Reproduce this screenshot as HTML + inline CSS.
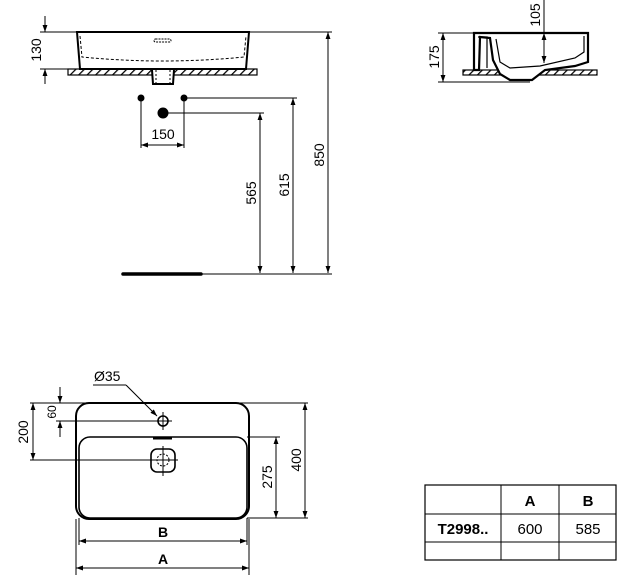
<!DOCTYPE html>
<html><head><style>
html,body{margin:0;padding:0;background:#fff;}
svg{display:block;font-family:"Liberation Sans",sans-serif;}
</style></head><body>
<svg width="621" height="579" viewBox="0 0 621 579" xmlns="http://www.w3.org/2000/svg">
<defs>
<marker id="ar" viewBox="0 0 10 10" refX="10" refY="5" markerWidth="7" markerHeight="7" orient="auto-start-reverse"><path d="M0,1.5 L10,5 L0,8.5 z" fill="#000"/></marker>
<pattern id="hatch" width="6" height="6" patternUnits="userSpaceOnUse" patternTransform="rotate(45)"><rect width="6" height="6" fill="#fff"/><line x1="0" y1="0" x2="0" y2="6" stroke="#000" stroke-width="2.5"/></pattern>
</defs>
<g stroke="#000" fill="none" stroke-width="1">
<rect x="68" y="69" width="189" height="6" fill="url(#hatch)" stroke-width="1.2"/>
<path d="M77,32 L80,69 L246,69 L249,32 Z" fill="#fff" stroke-width="2"/>
<path d="M80,36 L82,57 Q163,65 244,57 L246,36" stroke-dasharray="3,2"/>
<rect x="154" y="39" width="17" height="3" rx="1.5" stroke-dasharray="2,1"/>
<path d="M152,70 L153,84 L173,84 L174,70" stroke-width="2" fill="#fff"/>
<path d="M156,70 L156,83 M170,70 L170,83" stroke-dasharray="2,2"/>
<line x1="40" y1="32" x2="77" y2="32"/>
<line x1="40" y1="69" x2="70" y2="69"/>
<line x1="45" y1="16" x2="45" y2="32" marker-end="url(#ar)"/>
<line x1="45" y1="84" x2="45" y2="69" marker-end="url(#ar)"/>
<line x1="249" y1="32" x2="332" y2="32"/>
<circle cx="141" cy="98" r="3" fill="#000"/>
<circle cx="184" cy="98" r="3" fill="#000"/>
<circle cx="163" cy="113" r="5" fill="#000"/>
<line x1="184" y1="98" x2="297" y2="98"/>
<line x1="163" y1="113" x2="264" y2="113"/>
<line x1="141" y1="98" x2="141" y2="148"/>
<line x1="184" y1="98" x2="184" y2="148"/>
<line x1="141" y1="145" x2="184" y2="145" marker-start="url(#ar)" marker-end="url(#ar)"/>
<line x1="260" y1="113" x2="260" y2="273" marker-start="url(#ar)" marker-end="url(#ar)"/>
<line x1="293" y1="98" x2="293" y2="273" marker-start="url(#ar)" marker-end="url(#ar)"/>
<line x1="328" y1="32" x2="328" y2="273" marker-start="url(#ar)" marker-end="url(#ar)"/>
<line x1="200" y1="274" x2="332" y2="274"/>
<line x1="123" y1="274" x2="201" y2="274" stroke-width="3.5" stroke-linecap="round"/>
<rect x="463" y="70" width="134" height="5" fill="url(#hatch)" stroke-width="1.2"/>
<path d="M474,33 L588,33 L588,62 L575,66 L545,70 L532,80 L510,80 L500,74 L493,60 L490,38 L480,37 L479,70 L474,70 Z" fill="#fff" stroke-width="2.2"/>
<path d="M478,37 L487,37 L487,68" stroke-width="1.2"/>
<path d="M496,39 L500,62 L510,68 L540,66 L575,58 L584,52 L584,36" stroke-width="1.2"/>
<line x1="438" y1="33" x2="474" y2="33"/>
<line x1="438" y1="82" x2="530" y2="82"/>
<line x1="443" y1="33" x2="443" y2="82" marker-start="url(#ar)" marker-end="url(#ar)"/>
<line x1="544" y1="0" x2="544" y2="33"/>
<line x1="544" y1="33" x2="544" y2="63" marker-start="url(#ar)" marker-end="url(#ar)"/>
<rect x="76" y="403" width="173" height="116" rx="13" stroke-width="2"/>
<rect x="79" y="437" width="168" height="81" rx="11" stroke-width="1.6"/>
<line x1="153" y1="438" x2="172" y2="438" stroke-width="3"/>
<circle cx="163" cy="421" r="5" stroke-width="1.6"/>
<line x1="148" y1="421" x2="172" y2="421"/>
<line x1="163" y1="412" x2="163" y2="430"/>
<line x1="93" y1="385" x2="126" y2="385"/>
<line x1="126" y1="385" x2="157" y2="416" marker-end="url(#ar)"/>
<rect x="151" y="449" width="24" height="23" rx="6" stroke-width="1.6"/>
<circle cx="163" cy="460" r="6" stroke-dasharray="2,1.5"/>
<line x1="30" y1="460" x2="178" y2="460"/>
<line x1="163" y1="446" x2="163" y2="476"/>
<line x1="56" y1="421" x2="158" y2="421"/>
<line x1="30" y1="403" x2="308" y2="403"/>
<line x1="60" y1="387" x2="60" y2="403" marker-end="url(#ar)"/>
<line x1="60" y1="437" x2="60" y2="421" marker-end="url(#ar)"/>
<line x1="33" y1="403" x2="33" y2="460" marker-start="url(#ar)" marker-end="url(#ar)"/>
<line x1="247" y1="437" x2="280" y2="437"/>
<line x1="247" y1="518" x2="308" y2="518"/>
<line x1="276" y1="437" x2="276" y2="518" marker-start="url(#ar)" marker-end="url(#ar)"/>
<line x1="305" y1="403" x2="305" y2="518" marker-start="url(#ar)" marker-end="url(#ar)"/>
<line x1="76" y1="519" x2="76" y2="575"/>
<line x1="249" y1="519" x2="249" y2="575"/>
<line x1="79" y1="518" x2="79" y2="545"/>
<line x1="247" y1="518" x2="247" y2="545"/>
<line x1="79" y1="541" x2="247" y2="541" marker-start="url(#ar)" marker-end="url(#ar)"/>
<line x1="76" y1="568" x2="249" y2="568" marker-start="url(#ar)" marker-end="url(#ar)"/>
<rect x="425" y="485" width="191" height="75" stroke-width="1.2"/>
<line x1="425" y1="514" x2="616" y2="514"/>
<line x1="425" y1="542" x2="616" y2="542"/>
<line x1="501" y1="485" x2="501" y2="560"/>
<line x1="559" y1="485" x2="559" y2="560"/>
</g>
<g font-size="14" fill="#000">
<text transform="translate(41,50) rotate(-90)" text-anchor="middle">130</text>
<text x="163" y="139" text-anchor="middle">150</text>
<text transform="translate(256,193) rotate(-90)" text-anchor="middle">565</text>
<text transform="translate(289,185) rotate(-90)" text-anchor="middle">615</text>
<text transform="translate(324,155) rotate(-90)" text-anchor="middle">850</text>
<text transform="translate(439,57) rotate(-90)" text-anchor="middle">175</text>
<text transform="translate(540,15) rotate(-90)" text-anchor="middle">105</text>
<text x="94" y="381">Ø35</text>
<text transform="translate(56,412) rotate(-90)" text-anchor="middle" font-size="12">60</text>
<text transform="translate(28,432) rotate(-90)" text-anchor="middle">200</text>
<text transform="translate(272,477) rotate(-90)" text-anchor="middle">275</text>
<text transform="translate(301,460) rotate(-90)" text-anchor="middle">400</text>
<text x="163" y="537" text-anchor="middle" font-weight="bold">B</text>
<text x="163" y="564" text-anchor="middle" font-weight="bold">A</text>
<text x="530" y="506" text-anchor="middle" font-weight="bold" font-size="15">A</text>
<text x="588" y="506" text-anchor="middle" font-weight="bold" font-size="15">B</text>
<text x="463" y="534" text-anchor="middle" font-weight="bold" font-size="15">T2998..</text>
<text x="530" y="534" text-anchor="middle" font-size="15">600</text>
<text x="588" y="534" text-anchor="middle" font-size="15">585</text>
</g>
</svg>
</body></html>
